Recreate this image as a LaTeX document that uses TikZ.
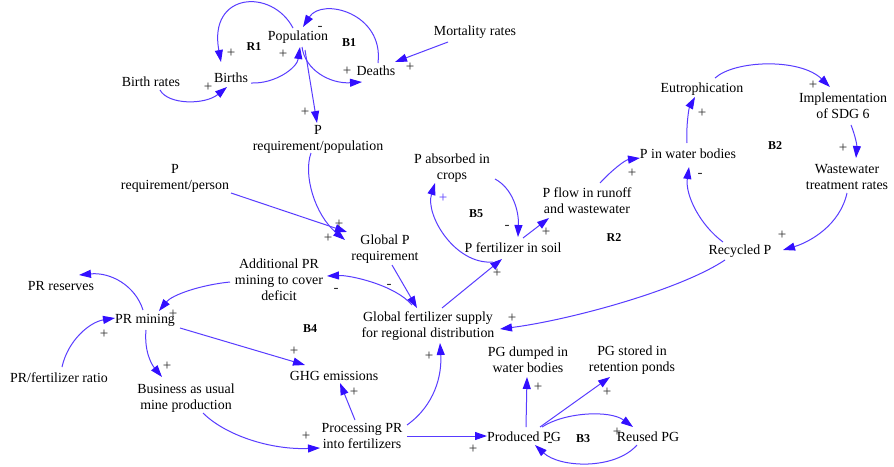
\documentclass[tikz,border=0pt]{standalone}
\usepackage{fontspec}
\setmainfont{Liberation Serif}
\usetikzlibrary{arrows.meta,calc}
\definecolor{linkblue}{RGB}{88,60,255}
\definecolor{tipblue}{RGB}{50,15,255}
\definecolor{signgray}{RGB}{45,45,45}
\tikzset{
  var/.style={align=center,inner sep=0pt,font=\fontsize{13.9}{16}\selectfont},
  loopname/.style={inner sep=0pt,font=\fontsize{12}{14}\selectfont\bfseries},
  sign/.style={inner sep=0pt,text=signgray,font=\fontsize{15}{16}\selectfont},
  link/.style={draw=linkblue,line width=1pt,-{Triangle[length=12pt,width=8pt,color=tipblue]}},
}
\begin{document}
\begin{tikzpicture}[x=1pt,y=-1pt]
\path[use as bounding box,fill=white] (0,0) rectangle (894,466);

% variables
\node[var] (pop) at (298,37) {Population};
\node[var] (births) at (231,78) {Births};
\node[var] (deaths) at (376,71) {Deaths};
\node[var] (birthrates) at (151,82) {Birth rates};
\node[var] (mort) at (475,32) {Mortality rates};
\node[var] (preqpop) at (318,139) {P\\requirement/population};
\node[var] (preqper) at (175,178) {P\\requirement/person};
\node[var] (globalp) at (385,249) {Global P\\requirement};
\node[var] (pabs) at (452,168) {P absorbed in\\crops};
\node[var] (pfert) at (513,248) {P fertilizer in soil};
\node[var] (pflow) at (587,201) {P flow in runoff\\and wastewater};
\node[var] (pwater) at (688,154) {P in water bodies};
\node[var] (eutro) at (702,89) {Eutrophication};
\node[var] (sdg) at (843,106) {Implementation\\of SDG 6};
\node[var] (wwt) at (847,177) {Wastewater\\treatment rates};
\node[var] (recyc) at (740,251) {Recycled P};
\node[var] (gfs) at (428,326) {Global fertilizer supply\\for regional distribution};
\node[var] (addpr) at (279,280) {Additional PR\\mining to cover\\deficit};
\node[var] (prres) at (61,286) {PR reserves};
\node[var] (prmin) at (145,320) {PR mining};
\node[var] (prratio) at (59,378) {PR/fertilizer ratio};
\node[var] (bau) at (186,398) {Business as usual\\mine production};
\node[var] (ghg) at (334,376) {GHG emissions};
\node[var] (proc) at (362,436) {Processing PR\\into fertilizers};
\node[var] (prodpg) at (524,437) {Produced PG};
\node[var] (pgdump) at (528,360) {PG dumped in\\water bodies};
\node[var] (pgstore) at (632,360) {PG stored in\\retention ponds};
\node[var] (reused) at (648,437) {Reused PG};

% loop identifiers
\node[loopname] (lr1) at (254,47) {R1};
\node[loopname] (lb1) at (349,43) {B1};
\node[loopname] (lb5) at (476,214) {B5};
\node[loopname] (lr2) at (614,238) {R2};
\node[loopname] (lb2) at (775,146) {B2};
\node[loopname] (lb4) at (310,329) {B4};
\node[loopname] (lb3) at (583,439) {B3};

% population loops
\draw[link] ($(pop)+(-5,-9)$) .. controls +(-21,-40) and +(-13,-70) .. ($(births)+(-10,-16)$);
\draw[link] ($(births)+(20,5)$) .. controls +(24,1) and +(-3,21) .. ($(pop)+(2,10)$);
\draw[link] ($(pop)+(4,10)$) .. controls +(3,23) and +(-32,2) .. ($(deaths)+(-14,11)$);
\draw[link] ($(deaths)+(2,-8)$) .. controls +(6,-50) and +(19,-30) .. ($(pop)+(5,-10)$);
\draw[link] ($(birthrates)+(9,8)$) .. controls +(8,15) and +(-22,18) .. ($(births)+(-4,9)$);
\draw[link] ($(mort)+(-27,10)$) -- ($(deaths)+(19,-9)$);
\draw[link] ($(pop)+(7,13)$) -- ($(preqpop)+(-1,-16)$);

% phosphorus requirement
\draw[link] ($(preqpop)+(-7,14)$) .. controls +(-8,22) and +(-30,-25) .. ($(globalp)+(-40,-9)$);
\draw[link] ($(preqper)+(56,15)$) -- ($(globalp)+(-38,-17)$);
\draw[link] ($(globalp)+(7,16)$) -- ($(gfs)+(-11,-18)$);
\draw[link] ($(gfs)+(-16,-21)$) .. controls +(-17,-20) and +(23,-1) .. ($(addpr)+(48,-4)$);

% rock mining
\draw[link] ($(addpr)+(-49,2)$) .. controls +(-30,3) and +(13,-16) .. ($(prmin)+(14,-9)$);
\draw[link] ($(prmin)+(-2,-10)$) .. controls +(-8,-25) and +(31,-3) .. ($(prres)+(18,-11)$);
\draw[link] ($(prratio)+(3,-11)$) .. controls +(6,-27) and +(-25,4) .. ($(prmin)+(-30,-2)$);
\draw[link] ($(prmin)+(1,10)$) .. controls +(-2,22) and +(-10,-12) .. ($(bau)+(-24,-21)$);
\draw[link] ($(prmin)+(35,8)$) -- ($(ghg)+(-29,-11)$);
\draw[link] ($(bau)+(17,15)$) .. controls +(22,22) and +(-50,2) .. ($(proc)+(-42,12)$);
\draw[link] ($(proc)+(-7,-16)$) -- ($(ghg)+(6,7)$);
\draw[link] ($(proc)+(45,-11)$) .. controls +(28,-20) and +(2,32) .. ($(gfs)+(12,17)$);
\draw[link] ($(proc)+(45,0)$) -- ($(prodpg)+(-37,-1)$);

% soil and water
\draw[link] ($(gfs)+(14,-18)$) -- ($(pfert)+(-11,11)$);
\draw[link] ($(pfert)+(-20,14)$) .. controls +(-38,3) and +(-10,32) .. ($(pabs)+(-17,15)$);
\draw[link] ($(pabs)+(43,11)$) .. controls +(17,9) and +(1,-27) .. ($(pfert)+(5,-11)$);
\draw[link] ($(pfert)+(10,-10)$) -- ($(pflow)+(-38,17)$);
\draw[link] ($(pflow)+(13,-18)$) .. controls +(12,-13) and +(-15,2) .. ($(pwater)+(-48,4)$);
\draw[link] ($(pwater)+(-1,-11)$) .. controls +(-1,-18) and +(-6,11) .. ($(eutro)+(-7,8)$);
\draw[link] ($(eutro)+(13,-11)$) .. controls +(20,-18) and +(-30,-29) .. ($(sdg)+(-13,-19)$);
\draw[link] ($(sdg)+(8,19)$) .. controls +(4,10) and +(1,-13) .. ($(wwt)+(9,-19)$);
\draw[link] ($(wwt)+(0,16)$) .. controls +(-7,32) and +(27,-8) .. ($(recyc)+(43,-1)$);
\draw[link] ($(recyc)+(-17,-9)$) .. controls +(-23,-17) and +(-4,28) .. ($(pwater)+(1,13)$);
\draw[link] ($(recyc)+(-15,9)$) .. controls +(-45,30) and +(70,-9) .. ($(gfs)+(72,3)$);

% phosphogypsum
\draw[link] ($(prodpg)+(2,-10)$) -- ($(pgdump)+(-1,17)$);
\draw[link] ($(prodpg)+(16,-10)$) -- ($(pgstore)+(-22,17)$);
\draw[link] ($(prodpg)+(18,-10)$) .. controls +(23,-15) and +(-23,-17) .. ($(reused)+(-15,-10)$);
\draw[link] ($(reused)+(-11,8)$) .. controls +(-22,25) and +(25,23) .. ($(prodpg)+(11,8)$);

% link polarities
\node[sign] (s1) at (231,53) {+};
\node[sign] (s2) at (283,54) {+};
\node[sign] (s3) at (347,71) {+};
\node[sign] (s4) at (320,28) {-};
\node[sign] (s5) at (208,87) {+};
\node[sign] (s6) at (410,67) {+};
\node[sign] (s7) at (305,112) {+};
\node[sign] (s8) at (339,224) {+};
\node[sign] (s9) at (328,238) {+};
\node[sign] (s10) at (389,286) {-};
\node[sign] (s11) at (336,290) {-};
\node[sign] (s12) at (173,314) {+};
\node[sign] (s13) at (104,334) {+};
\node[sign] (s14) at (167,366) {+};
\node[sign] (s15) at (294,351) {+};
\node[sign] (s16) at (306,436) {+};
\node[sign] (s17) at (354,392) {+};
\node[sign] (s18) at (429,356) {+};
\node[sign] (s19) at (473,449) {+};
\node[sign] (s20) at (497,273) {+};
\node[sign,text=linkblue] (s21) at (443,198) {+};
\node[sign] (s22) at (507,227) {-};
\node[sign] (s23) at (546,232) {+};
\node[sign] (s24) at (632,173) {+};
\node[sign] (s25) at (702,113) {+};
\node[sign] (s26) at (813,85) {+};
\node[sign] (s27) at (843,148) {+};
\node[sign] (s28) at (782,235) {+};
\node[sign] (s29) at (700,175) {-};
\node[sign] (s30) at (512,318) {+};
\node[sign] (s31) at (538,387) {+};
\node[sign] (s32) at (607,392) {+};
\node[sign] (s33) at (617,432) {+};
\node[sign] (s34) at (550,444) {-};
\end{tikzpicture}
\end{document}
